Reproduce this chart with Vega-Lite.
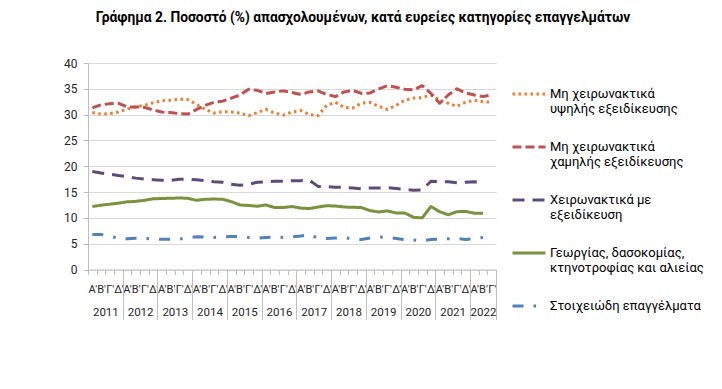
{
  "$schema": "https://vega.github.io/schema/vega-lite/v6.json",
  "width": 408,
  "height": 206.5,
  "padding": {"left": 63, "top": 11, "right": 5, "bottom": 5},
  "title": {"text": "Γράφημα 2. Ποσοστό (%) απασχολουμένων, κατά ευρείες κατηγορίες επαγγελμάτων", "font": "Roboto", "fontSize": 13.8, "fontWeight": "bold", "color": "#000000", "anchor": "middle", "dx": 71, "offset": 32},
  "datasets": {
    "q": [
      {"p": "2011 Α'", "hs": 30.4, "ls": 31.3, "sm": 19.0, "ag": 12.2, "el": 6.8},
      {"p": "2011 Β'", "hs": 30.1, "ls": 31.9, "sm": 18.7, "ag": 12.45, "el": 6.8},
      {"p": "2011 Γ'", "hs": 30.2, "ls": 32.1, "sm": 18.45, "ag": 12.65, "el": 6.4},
      {"p": "2011 Δ'", "hs": 30.5, "ls": 32.2, "sm": 18.2, "ag": 12.85, "el": 6.1},
      {"p": "2012 Α'", "hs": 31.1, "ls": 31.5, "sm": 18.0, "ag": 13.1, "el": 5.95},
      {"p": "2012 Β'", "hs": 31.5, "ls": 31.5, "sm": 17.7, "ag": 13.2, "el": 6.05},
      {"p": "2012 Γ'", "hs": 31.8, "ls": 31.4, "sm": 17.5, "ag": 13.4, "el": 6.0},
      {"p": "2012 Δ'", "hs": 32.3, "ls": 30.9, "sm": 17.4, "ag": 13.7, "el": 5.95},
      {"p": "2013 Α'", "hs": 32.7, "ls": 30.5, "sm": 17.3, "ag": 13.75, "el": 5.85},
      {"p": "2013 Β'", "hs": 32.8, "ls": 30.4, "sm": 17.25, "ag": 13.8, "el": 5.85},
      {"p": "2013 Γ'", "hs": 33.0, "ls": 30.2, "sm": 17.5, "ag": 13.85, "el": 5.9},
      {"p": "2013 Δ'", "hs": 32.9, "ls": 30.1, "sm": 17.5, "ag": 13.8, "el": 6.1},
      {"p": "2014 Α'", "hs": 32.0, "ls": 31.0, "sm": 17.4, "ag": 13.4, "el": 6.35},
      {"p": "2014 Β'", "hs": 31.0, "ls": 31.8, "sm": 17.2, "ag": 13.6, "el": 6.3},
      {"p": "2014 Γ'", "hs": 30.3, "ls": 32.4, "sm": 17.0, "ag": 13.65, "el": 6.2},
      {"p": "2014 Δ'", "hs": 30.6, "ls": 32.6, "sm": 16.9, "ag": 13.6, "el": 6.3},
      {"p": "2015 Α'", "hs": 30.5, "ls": 33.2, "sm": 16.5, "ag": 13.15, "el": 6.4},
      {"p": "2015 Β'", "hs": 30.3, "ls": 33.8, "sm": 16.3, "ag": 12.5, "el": 6.4},
      {"p": "2015 Γ'", "hs": 29.8, "ls": 34.9, "sm": 16.5, "ag": 12.4, "el": 6.2},
      {"p": "2015 Δ'", "hs": 30.4, "ls": 34.7, "sm": 16.9, "ag": 12.25, "el": 6.05},
      {"p": "2016 Α'", "hs": 31.0, "ls": 34.1, "sm": 17.0, "ag": 12.5, "el": 6.2},
      {"p": "2016 Β'", "hs": 30.3, "ls": 34.4, "sm": 17.1, "ag": 12.0, "el": 6.3},
      {"p": "2016 Γ'", "hs": 29.9, "ls": 34.6, "sm": 17.1, "ag": 12.0, "el": 6.2},
      {"p": "2016 Δ'", "hs": 30.5, "ls": 34.3, "sm": 17.2, "ag": 12.2, "el": 6.3},
      {"p": "2017 Α'", "hs": 30.8, "ls": 33.9, "sm": 17.2, "ag": 11.9, "el": 6.5},
      {"p": "2017 Β'", "hs": 30.0, "ls": 34.4, "sm": 17.3, "ag": 11.8, "el": 6.75},
      {"p": "2017 Γ'", "hs": 29.8, "ls": 34.6, "sm": 16.1, "ag": 12.1, "el": 6.1},
      {"p": "2017 Δ'", "hs": 31.8, "ls": 33.9, "sm": 16.05, "ag": 12.35, "el": 6.0},
      {"p": "2018 Α'", "hs": 32.4, "ls": 33.5, "sm": 15.95, "ag": 12.3, "el": 6.1},
      {"p": "2018 Β'", "hs": 31.4, "ls": 34.4, "sm": 15.9, "ag": 12.1, "el": 6.2},
      {"p": "2018 Γ'", "hs": 31.3, "ls": 34.7, "sm": 15.8, "ag": 12.05, "el": 5.9},
      {"p": "2018 Δ'", "hs": 32.2, "ls": 34.1, "sm": 15.65, "ag": 12.0, "el": 5.8},
      {"p": "2019 Α'", "hs": 32.4, "ls": 34.2, "sm": 15.8, "ag": 11.4, "el": 6.1},
      {"p": "2019 Β'", "hs": 31.6, "ls": 35.0, "sm": 15.8, "ag": 11.15, "el": 6.3},
      {"p": "2019 Γ'", "hs": 31.0, "ls": 35.6, "sm": 15.85, "ag": 11.35, "el": 6.2},
      {"p": "2019 Δ'", "hs": 31.8, "ls": 35.3, "sm": 15.7, "ag": 10.95, "el": 6.0},
      {"p": "2020 Α'", "hs": 32.8, "ls": 34.9, "sm": 15.5, "ag": 10.95, "el": 5.8},
      {"p": "2020 Β'", "hs": 33.2, "ls": 34.8, "sm": 15.35, "ag": 10.1, "el": 5.7},
      {"p": "2020 Γ'", "hs": 33.3, "ls": 35.6, "sm": 15.4, "ag": 10.0, "el": 5.55},
      {"p": "2020 Δ'", "hs": 33.8, "ls": 34.1, "sm": 17.1, "ag": 12.2, "el": 5.8},
      {"p": "2021 Α'", "hs": 32.8, "ls": 32.2, "sm": 17.0, "ag": 11.2, "el": 5.9},
      {"p": "2021 Β'", "hs": 32.2, "ls": 33.8, "sm": 17.0, "ag": 10.6, "el": 5.95},
      {"p": "2021 Γ'", "hs": 31.6, "ls": 35.0, "sm": 16.8, "ag": 11.2, "el": 6.0},
      {"p": "2021 Δ'", "hs": 32.4, "ls": 34.2, "sm": 16.9, "ag": 11.25, "el": 5.8},
      {"p": "2022 Α'", "hs": 32.8, "ls": 33.8, "sm": 17.0, "ag": 10.9, "el": 6.0},
      {"p": "2022 Β'", "hs": 32.5, "ls": 33.5, "sm": 16.9, "ag": 10.9, "el": 6.2},
      {"p": "2022 Γ'", "hs": 32.4, "ls": 33.8}
    ],
    "names": [
      {"k": "hs", "name": "Μη χειρωνακτικά υψηλής εξειδίκευσης"},
      {"k": "ls", "name": "Μη χειρωνακτικά χαμηλής εξειδίκευσης"},
      {"k": "sm", "name": "Χειρωνακτικά με εξειδίκευση"},
      {"k": "ag", "name": "Γεωργίας, δασοκομίας, κτηνοτροφίας και αλιείας"},
      {"k": "el", "name": "Στοιχειώδη επαγγέλματα"}
    ]
  },
  "data": {"name": "q"},
  "transform": [
    {"fold": ["hs", "ls", "sm", "ag", "el"], "as": ["k", "v"]},
    {"lookup": "k", "from": {"data": {"name": "names"}, "key": "k", "fields": ["name"]}}
  ],
  "layer": [
    {
      "mark": {"type": "line", "strokeWidth": 3, "strokeCap": "butt", "strokeJoin": "round"},
      "encoding": {
        "x": {
          "field": "p", "type": "ordinal",
          "scale": {"type": "band", "paddingInner": 0, "paddingOuter": 0},
          "axis": {
            "orient": "bottom", "title": null, "labelAngle": 0,
            "labelExpr": "split(datum.value, ' ')[1]",
            "labelFont": "Roboto", "labelFontSize": 11, "labelColor": "#262626",
            "labelPadding": 9, "labelOverlap": false, "labelBound": false,
            "tickBand": "extent", "tickSize": 5, "tickColor": "#bfbfbf",
            "domainColor": "#bfbfbf", "grid": false
          }
        },
        "y": {
          "field": "v", "type": "quantitative",
          "scale": {"domain": [0, 40], "nice": false},
          "axis": {
            "title": null, "values": [0, 5, 10, 15, 20, 25, 30, 35, 40],
            "labelFont": "Roboto", "labelFontSize": 12, "labelColor": "#262626",
            "labelPadding": 6, "tickSize": 5, "tickColor": "#bfbfbf",
            "domainColor": "#bfbfbf", "gridColor": "#d9d9d9", "grid": true
          }
        },
        "color": {
          "field": "name", "type": "nominal",
          "scale": {
            "domain": ["Μη χειρωνακτικά υψηλής εξειδίκευσης", "Μη χειρωνακτικά χαμηλής εξειδίκευσης", "Χειρωνακτικά με εξειδίκευση", "Γεωργίας, δασοκομίας, κτηνοτροφίας και αλιείας", "Στοιχειώδη επαγγέλματα"],
            "range": ["#ED7D31", "#C0504D", "#604A7B", "#77933C", "#4F81BD"]
          },
          "legend": {
            "title": null, "orient": "none", "legendX": 423, "legendY": 13,
            "labelFont": "Roboto", "labelFontSize": 13, "labelColor": "#000000",
            "labelLimit": 300, "labelOffset": 3,
            "labelExpr": "length(split(datum.label, ' ')) > 2 ? [replace(datum.label, regexp('^(\\\\S+ \\\\S+) .*$'), '$1'), replace(datum.label, regexp('^\\\\S+ \\\\S+ '), '')] : datum.label",
            "symbolType": "stroke", "symbolSize": 1089, "symbolStrokeWidth": 3,
            "rowPadding": 13
          }
        },
        "strokeDash": {
          "field": "name", "type": "nominal",
          "scale": {
            "domain": ["Μη χειρωνακτικά υψηλής εξειδίκευσης", "Μη χειρωνακτικά χαμηλής εξειδίκευσης", "Χειρωνακτικά με εξειδίκευση", "Γεωργίας, δασοκομίας, κτηνοτροφίας και αλιείας", "Στοιχειώδη επαγγέλματα"],
            "range": [[2.6, 3.4], [9, 4], [12, 8], [1, 0], [11, 10, 2.6, 10]]
          }
        }
      }
    },
    {
      "mark": {"type": "rule", "opacity": 0},
      "encoding": {
        "x": {
          "field": "p", "type": "ordinal",
          "axis": {
            "orient": "bottom", "title": null, "labelAngle": 0,
            "labelExpr": "indexof(datum.label, \"Β'\") >= 0 ? split(datum.label, ' ')[0] : ''",
            "labelOffset": {"condition": {"test": "isString(datum.value) && indexof(datum.value, '2022') >= 0", "value": 0}, "value": 4.34},
            "labelFont": "Roboto", "labelFontSize": 11.5, "labelColor": "#262626",
            "labelPadding": -13, "labelOverlap": false, "labelBound": false,
            "tickBand": "extent", "tickSize": 50,
            "tickColor": {"condition": {"test": "isString(datum.value) && (indexof(datum.value, 'Δ') >= 0 || indexof(datum.value, '2022 Γ') >= 0)", "value": "#bfbfbf"}, "value": "transparent"},
            "domain": false, "grid": false
          }
        }
      }
    }
  ],
  "resolve": {"axis": {"x": "independent"}},
  "config": {"view": {"stroke": null}, "font": "Roboto"}
}
